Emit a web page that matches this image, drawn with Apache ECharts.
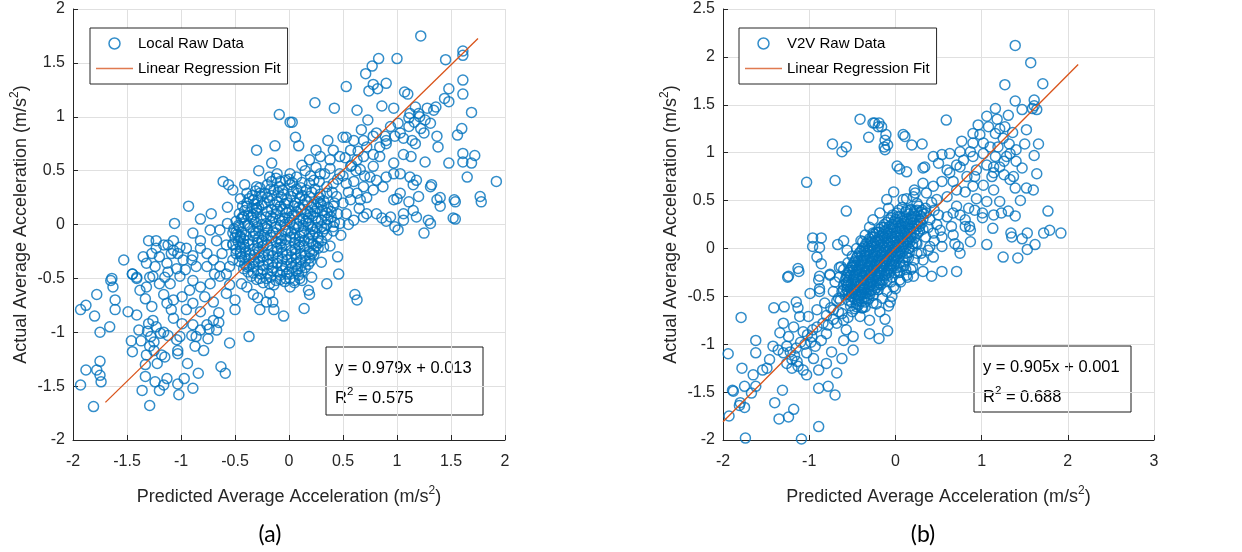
<!DOCTYPE html>
<html><head><meta charset="utf-8">
<script src="https://cdn.jsdelivr.net/npm/echarts@6/dist/echarts.min.js"></script>
<style>html,body{margin:0;padding:0;background:#fff}#c{width:1242px;height:552px}</style>
</head><body><div id="c"></div>
<script>
// ---------- (a) Local: scattered points ----------
const localPoints = [
[1.22,1.75],[1.61,1.61],[1.61,1.57],[1.45,1.53],[1.0,1.54],[0.83,1.54],[0.77,1.47],[0.71,1.4],[0.53,1.28],[0.78,1.3],[0.82,1.26],[0.9,1.31],[0.74,1.24],[1.07,1.23],[1.1,1.21],[1.48,1.26],[1.61,1.34],[1.61,1.21],[1.44,1.17],[1.48,1.14],[0.86,1.1],[0.97,1.08],[0.42,1.08],[0.24,1.13],[0.63,1.06],[-0.09,1.02],[0.01,0.95],[0.03,0.95],[0.73,0.97],[1.69,1.04],[1.28,1.08],[1.34,1.06],[1.36,1.09],[1.2,1.03],[1.17,1.09],[1.6,0.89],[1.56,0.83],[0.06,0.81],[0.09,0.73],[-0.13,0.73],[-0.3,0.69],[0.36,0.78],[0.25,0.69],[0.53,0.81],[0.5,0.81],[0.72,0.72],[0.67,0.88],[0.78,0.82],[0.89,0.82],[1.37,0.82],[1.38,0.72],[1.61,0.66],[1.72,0.64],[1.61,0.58],[1.69,0.57],[1.65,0.44],[1.48,0.57],[1.92,0.4],[1.77,0.26],[1.78,0.21],[1.53,0.23],[1.54,0.21],[1.52,0.06],[1.54,0.05],[1.25,-0.08],[1.29,0.04],[1.31,0.01],[1.18,0.07],[1.37,0.23],[1.4,0.17],[1.4,0.25],[1.31,0.35],[1.32,0.37],[1.26,0.58],[1.13,0.63],[1.06,0.65],[1.14,0.78],[1.25,0.85],[1.22,0.89],[1.17,0.75],[1.06,0.8],[1.11,0.91],[1.03,0.85],[0.98,0.82],[1.11,0.99],[1.21,1.0],[1.26,0.97],[1.31,0.94],[1.12,1.03],[1.16,0.95],[1.01,0.94],[0.94,0.91],[0.9,0.78],[0.84,0.72],[0.9,0.75],[0.81,0.85],[0.69,0.78],[0.6,0.78],[0.64,0.68],[0.57,0.69],[0.47,0.63],[0.38,0.6],[0.41,0.69],[0.29,0.63],[0.19,0.6],[0.12,0.55],[0.01,0.47],[-0.11,0.47],[-0.16,0.57],[-0.18,0.44],[-0.28,0.5],[-0.3,0.35],[-0.41,0.37],[-0.45,0.24],[-0.61,0.4],[-0.56,0.37],[-0.52,0.32],[-0.82,0.05],[-0.93,0.17],[-1.06,0.01],[-1.07,-0.15],[-0.72,0.1],[-0.57,0.16],[-0.57,0.01],[-0.64,-0.05],[-0.73,-0.05],[-0.82,-0.15],[-0.89,-0.08],[-0.95,-0.22],[-1.01,-0.21],[-1.12,-0.19],[-1.3,-0.15],[-1.23,-0.22],[-1.2,-0.3],[-1.27,-0.27],[-1.35,-0.3],[-1.32,-0.36],[-1.24,-0.39],[-1.53,-0.33],[-1.64,-0.5],[-1.45,-0.46],[-1.41,-0.49],[-1.09,-0.27],[-1.03,-0.27],[-0.98,-0.33],[-1.13,-0.36],[-1.12,-0.44],[-1.04,-0.41],[-0.9,-0.33],[-0.86,-0.39],[-0.76,-0.27],[-0.7,-0.33],[-0.62,-0.27],[-0.76,-0.39],[-0.69,-0.46],[-0.52,-0.18],[-0.45,-0.11],[-0.52,-0.08],[-0.42,0.07],[-0.39,0.17],[-0.33,0.23],[-0.3,0.15],[-0.27,0.29],[-0.39,0.29],[-0.45,-0.27],[-0.39,-0.39],[-0.33,-0.33],[-0.55,-0.39],[-0.58,-0.46],
[0.47,0.47],[0.57,0.54],[0.66,0.51],[0.75,0.44],[0.81,0.41],[0.9,0.44],[0.97,0.47],[1.03,0.47],[0.87,0.35],[0.78,0.32],[0.69,0.35],[0.63,0.29],[0.57,0.23],[0.66,0.23],[0.72,0.1],[0.81,0.1],[0.94,0.07],[0.98,-0.02],[1.01,-0.05],[1.06,0.04],[0.97,0.23],[1.0,0.24],[1.12,0.44],[1.18,0.41],[1.15,0.37],[1.11,0.21],[1.15,0.13],[1.2,0.26],[0.41,0.38],[0.35,0.29],[0.29,0.2],[0.41,0.17],[0.53,0.1],[0.6,0.04],[0.47,0.01],[0.41,-0.02],[0.69,0.07],[0.86,0.06],[0.9,0.03],[1.06,0.1],[0.78,0.65],[0.84,0.63],[0.97,0.57],[0.63,0.6],[0.53,0.38],[0.29,0.47],[0.23,0.41],[0.44,0.26],[0.78,0.54],[0.69,0.63],[1.03,0.29],
[0.45,0.1],[0.5,0.2],[0.55,0.3],[0.5,0.45],[0.6,0.4],[0.65,0.15],[0.55,0.0],[0.48,-0.1],[0.38,-0.2],[0.45,-0.3],[0.3,-0.35],[0.58,0.55],[0.7,0.45],[0.72,0.25],[0.62,0.5],[0.52,0.62],
[-1.23,-0.15],[-1.16,-0.19],[-1.07,-0.24],[-0.82,-0.22],[-0.67,-0.15],[-0.58,-0.19],[-0.89,-0.29],[-0.96,-0.42],[-1.15,-0.49],[-1.29,-0.49],[-0.64,-0.39],[-0.52,-0.33],
[-1.93,-0.79],[-1.88,-0.75],[-1.78,-0.65],[-1.8,-0.85],[-1.65,-0.52],[-1.63,-0.58],[-1.61,-0.7],[-1.61,-0.79],[-1.66,-0.95],[-1.75,-1.0],[-1.75,-1.27],[-1.93,-1.49],[-1.88,-1.35],[-1.78,-1.35],[-1.75,-1.4],[-1.74,-1.46],[-1.81,-1.69],[-1.49,-0.81],[-1.45,-0.46],[-1.41,-0.5],[-1.38,-0.61],[-1.33,-0.69],[-1.41,-0.84],[-1.46,-1.08],[-1.45,-1.18],[-1.39,-0.98],[-1.37,-1.08],[-1.31,-0.99],[-1.28,-1.04],[-1.33,-1.3],[-1.33,-1.41],[-1.36,-1.54],[-1.29,-1.68],[-1.24,-1.46],[-1.2,-1.54],[-1.16,-1.49],[-1.13,-1.43],[-1.22,-1.29],[-1.25,-1.17],[-1.29,-1.13],[-1.25,-1.09],[-1.18,-1.21],[-1.15,-1.23],[-1.32,-1.21],[-1.26,-0.89],[-1.23,-0.95],[-1.16,-1.0],[-1.12,-1.03],[-1.19,-1.01],[-1.3,-0.92],[-1.03,-1.48],[-1.02,-1.58],[-0.97,-1.43],[-0.89,-1.52],[-0.84,-1.38],[-0.94,-1.29],[-1.04,-1.07],[-1.03,-1.17],[-1.03,-1.2],[-1.01,-1.04],[-0.87,-1.13],[-0.9,-1.03],[-0.86,-1.04],[-0.79,-1.17],[-0.75,-1.06],[-0.74,-0.97],[-0.67,-0.98],[-0.65,-0.91],[-0.63,-1.32],[-0.59,-1.38],[-0.55,-1.1],[-0.37,-1.04],[-0.05,-0.85],[0.14,-0.78],[0.35,-0.55],[0.46,-0.46],[0.61,-0.65],[0.63,-0.7],[0.18,-0.61],[0.19,-0.65],[0.21,-0.49],[0.12,-0.52],[0.01,-0.58],[0.05,-0.54],[-0.27,-0.79],[-0.29,-0.68],[-0.21,-0.72],[-0.14,-0.79],[-0.15,-0.72],[-0.18,-0.64],[-0.5,-0.7],[-0.5,-0.79],[-0.44,-0.55],[-0.33,-0.65],[-0.39,-0.58],[-0.7,-0.72],[-0.65,-0.82],[-0.7,-0.89],[-0.76,-0.93],[-0.82,-0.81],[-0.89,-0.73],[-0.95,-0.79],[-0.99,-0.67],[-0.92,-0.61],[-0.82,-0.58],[-0.78,-0.67],[-1.07,-0.7],[-1.09,-0.79],[-1.13,-0.73],[-1.16,-0.65],[-1.2,-0.55],[-1.26,-0.48],[-1.1,-0.55],[-1.01,-0.48],[-0.89,-0.52],[-0.73,-0.55],[-0.64,-0.48],[-0.55,-0.56],[-0.58,-0.64],[-1.32,-0.58],[-1.27,-0.76],[-0.99,-0.92],[-1.07,-0.87],[-0.89,-0.93],[-0.82,-0.98]
];
// (a) dense central cloud, estimated circle by circle
const localCore = [
[-0.12,0.43],[-0.03,0.41],[0.07,0.44],[-0.2,0.37],[-0.09,0.35],[0.01,0.37],[0.11,0.34],[0.19,0.38],
[-0.31,0.31],[-0.22,0.29],[-0.14,0.32],[-0.05,0.28],[0.04,0.31],[0.12,0.27],[0.21,0.3],[0.28,0.25],
[-0.37,0.24],[-0.29,0.22],[-0.2,0.25],[-0.11,0.21],[-0.02,0.23],[0.06,0.2],[0.15,0.23],[0.23,0.19],[0.32,0.22],
[-0.43,0.17],[-0.34,0.15],[-0.25,0.18],[-0.16,0.14],[-0.08,0.17],[0.0,0.13],[0.09,0.16],[0.17,0.12],[0.26,0.15],[0.35,0.11],
[-0.46,0.1],[-0.38,0.08],[-0.3,0.11],[-0.21,0.07],[-0.12,0.1],[-0.04,0.06],[0.05,0.09],[0.13,0.05],[0.22,0.08],[0.3,0.04],[0.39,0.07],
[-0.49,0.03],[-0.41,0.01],[-0.33,0.04],[-0.25,0.0],[-0.16,0.03],[-0.08,-0.01],[0.01,0.02],[0.09,-0.02],[0.18,0.01],[0.26,-0.03],[0.35,0.0],
[-0.51,-0.04],[-0.44,-0.07],[-0.36,-0.03],[-0.28,-0.06],[-0.2,-0.04],[-0.12,-0.08],[-0.03,-0.05],[0.05,-0.09],[0.14,-0.06],[0.22,-0.1],[0.31,-0.07],
[-0.5,-0.12],[-0.42,-0.14],[-0.33,-0.11],[-0.25,-0.15],[-0.16,-0.12],[-0.07,-0.15],[0.01,-0.12],[0.1,-0.16],[0.18,-0.13],[0.27,-0.17],
[-0.52,-0.19],[-0.45,-0.21],[-0.37,-0.18],[-0.29,-0.22],[-0.2,-0.19],[-0.11,-0.22],[-0.03,-0.19],[0.06,-0.23],[0.14,-0.2],[0.23,-0.24],
[-0.49,-0.27],[-0.4,-0.25],[-0.32,-0.28],[-0.23,-0.26],[-0.15,-0.29],[-0.06,-0.26],[0.02,-0.3],[0.11,-0.27],[0.19,-0.31],
[-0.46,-0.34],[-0.37,-0.32],[-0.28,-0.35],[-0.2,-0.33],[-0.11,-0.36],[-0.02,-0.33],[0.07,-0.37],[0.15,-0.34],
[-0.42,-0.41],[-0.33,-0.39],[-0.24,-0.42],[-0.15,-0.4],[-0.06,-0.43],[0.03,-0.4],[0.12,-0.44],
[-0.35,-0.48],[-0.26,-0.46],[-0.17,-0.49],[-0.08,-0.47],[0.01,-0.5],[0.09,-0.47],
[-0.24,-0.54],[-0.14,-0.56],[-0.04,-0.53],
[-0.08,0.4],[0.03,0.39],[-0.17,0.33],[-0.06,0.32],[0.07,0.33],[0.16,0.32],
[-0.26,0.26],[-0.16,0.27],[-0.07,0.25],[0.02,0.26],[0.1,0.24],[0.19,0.26],[0.27,0.21],
[-0.32,0.19],[-0.23,0.2],[-0.13,0.18],[-0.04,0.19],[0.05,0.17],[0.13,0.18],[0.21,0.16],[0.3,0.18],
[-0.41,0.13],[-0.3,0.14],[-0.2,0.12],[-0.11,0.14],[-0.02,0.11],[0.07,0.12],[0.15,0.1],[0.24,0.12],[0.33,0.08],
[-0.44,0.05],[-0.35,0.07],[-0.26,0.05],[-0.17,0.08],[-0.09,0.04],[0.0,0.06],[0.1,0.04],[0.18,0.06],[0.27,0.03],[0.36,0.05],
[-0.47,-0.01],[-0.38,0.0],[-0.29,-0.02],[-0.21,0.01],[-0.12,-0.02],[-0.04,0.0],[0.05,-0.03],[0.13,-0.01],[0.22,-0.04],[0.3,-0.02],
[-0.48,-0.09],[-0.4,-0.1],[-0.31,-0.08],[-0.23,-0.1],[-0.15,-0.07],[-0.07,-0.1],[0.02,-0.08],[0.1,-0.11],[0.19,-0.09],[0.27,-0.12],
[-0.47,-0.16],[-0.38,-0.15],[-0.29,-0.17],[-0.21,-0.14],[-0.12,-0.16],[-0.03,-0.14],[0.05,-0.17],[0.14,-0.15],[0.22,-0.18],
[-0.49,-0.23],[-0.41,-0.21],[-0.33,-0.23],[-0.24,-0.2],[-0.16,-0.24],[-0.07,-0.21],[0.02,-0.24],[0.1,-0.21],[0.19,-0.25],[0.27,-0.22],
[-0.44,-0.3],[-0.36,-0.28],[-0.27,-0.31],[-0.19,-0.28],[-0.1,-0.31],[-0.02,-0.28],[0.07,-0.31],[0.15,-0.29],[0.23,-0.28],
[-0.41,-0.37],[-0.32,-0.35],[-0.24,-0.38],[-0.15,-0.35],[-0.07,-0.38],[0.02,-0.36],[0.11,-0.39],[0.18,-0.37],
[-0.38,-0.44],[-0.29,-0.43],[-0.2,-0.45],[-0.11,-0.44],[-0.02,-0.46],[0.07,-0.43],
[-0.3,-0.51],[-0.21,-0.5],[-0.12,-0.52],[-0.03,-0.5],[0.05,-0.52],
[0.2,0.45],[0.28,0.4],[0.35,0.35],[0.15,0.5],[0.25,0.53],[0.33,0.47],[0.4,0.3],[0.42,0.2],[0.45,0.42],[0.38,0.52],
[-0.16,0.4],[0.0,0.42],[0.12,0.39],[-0.27,0.34],[-0.1,0.3],[0.08,0.29],[0.24,0.33],
[-0.34,0.27],[-0.18,0.22],[-0.01,0.2],[0.17,0.21],[0.29,0.28],[0.36,0.16],
[-0.39,0.2],[-0.28,0.16],[-0.06,0.14],[0.11,0.14],[0.2,0.1],[0.31,0.13],[0.39,0.12],
[-0.43,0.07],[-0.33,0.09],[-0.15,0.06],[0.03,0.08],[0.16,0.03],[0.25,0.06],[0.42,0.02],
[-0.46,-0.02],[-0.31,0.02],[-0.22,-0.03],[-0.06,0.03],[0.07,0.01],[0.2,-0.02],[0.33,-0.04],[0.41,-0.06],
[-0.49,-0.07],[-0.33,-0.06],[-0.17,-0.1],[-0.01,-0.06],[0.12,-0.08],[0.24,-0.07],[0.35,-0.1],
[-0.45,-0.12],[-0.28,-0.12],[-0.1,-0.13],[0.06,-0.13],[0.2,-0.16],[0.3,-0.15],
[-0.42,-0.18],[-0.25,-0.17],[-0.08,-0.18],[0.09,-0.19],[0.25,-0.2],[0.32,-0.21],
[-0.45,-0.25],[-0.28,-0.25],[-0.11,-0.25],[0.06,-0.27],[0.21,-0.27],
[-0.41,-0.31],[-0.24,-0.3],[-0.06,-0.32],[0.11,-0.33],[0.2,-0.34],
[-0.37,-0.38],[-0.19,-0.37],[-0.03,-0.39],[0.08,-0.41],[0.15,-0.4],
[-0.33,-0.45],[-0.16,-0.43],[0.0,-0.44],[0.1,-0.5],
[-0.27,-0.5],[-0.08,-0.51],[-0.18,-0.55]
];
const localFit = [[-1.70,-1.651],[1.75,1.726]];

// ---------- (b) V2V ----------
const v2vPoints = [
[1.39,2.12],[1.57,1.94],[1.71,1.72],[1.27,1.71],[1.39,1.54],[1.61,1.55],[1.61,1.49],[1.64,1.45],[1.59,1.46],[1.47,1.45],[1.16,1.46],[1.06,1.38],[1.18,1.35],[1.21,1.25],[1.31,1.39],[1.27,1.27],[1.36,1.21],[1.52,1.24],[1.5,1.09],[1.66,1.09],[1.61,0.97],[1.64,0.78],[1.47,0.84],[1.4,0.91],[1.32,1.09],[1.52,0.63],[1.6,0.61],[1.45,0.5],[1.77,0.39],[1.92,0.16],[1.79,0.19],[1.72,0.16],[1.62,0.04],[1.53,0.16],[1.53,-0.01],[1.47,0.1],[1.34,0.16],[1.35,0.12],[1.42,-0.1],[1.25,-0.09],[1.06,0.04],[1.39,0.34],[1.31,0.39],[1.21,0.49],[1.23,0.37],[1.14,0.35],[1.13,0.21],[1.01,0.37],[1.01,0.32],[0.87,0.07],[0.87,0.19],[0.86,0.23],[0.81,0.3],[0.94,0.52],[1.06,0.49],[1.39,0.63],[1.33,0.72],[1.37,0.75],[1.26,0.77],[1.14,0.79],[1.4,1.03],[1.26,0.91],[1.16,0.96],[1.1,1.06],[0.9,1.2],[0.98,1.19],[0.77,1.12],[0.96,1.29],[1.08,1.27],[0.59,1.34],[-0.41,1.35],[-0.26,1.31],[-0.24,1.31],[-0.19,1.31],[-0.2,1.27],[-0.16,1.27],[-0.31,1.16],[-0.11,1.19],[-0.12,1.13],[-0.13,1.06],[-0.09,1.08],[-0.12,1.03],[0.09,1.19],[0.11,1.17],[0.19,1.08],[0.31,1.09],[-0.73,1.09],[-0.62,1.01],[-0.57,1.06],[-1.03,0.69],[-0.7,0.71],[-0.57,0.39],[0.02,0.86],[0.05,0.83],[0.13,0.8],[0.32,0.84],[0.34,0.85],[0.22,0.61],[0.23,0.58],[0.32,0.68],[0.13,0.52],[0.44,0.96],[0.54,0.98],[0.63,0.99],[0.75,1.01],[0.87,1.01],[0.5,0.89],[0.6,0.82],[0.71,0.87],[0.79,0.92],[0.9,0.96],[1.02,0.99],[1.06,0.87],[0.94,0.82],[0.83,0.75],[0.67,0.7],[0.54,0.7],[0.44,0.65],[0.36,0.58],[0.48,0.51],[0.6,0.54],[0.71,0.61],[0.81,0.59],[0.9,0.65],[1.02,0.66],[1.14,0.61],[1.14,0.85],[0.71,0.44],[0.67,0.37],[0.6,0.33],[0.75,0.35],[0.81,0.23],[0.52,0.19],[0.65,0.23],[0.67,0.14],[0.54,0.12],[0.44,0.16],[0.4,0.02],[0.54,0.02],[0.69,0.05],[0.73,0.02],[0.75,-0.05],[0.44,-0.09],[0.32,-0.12],[0.25,-0.05],[0.36,0.37],[0.25,0.47],[1.16,1.2],[1.25,1.15],[1.02,1.1],[1.19,1.06],[0.9,1.1],[0.75,0.85],[1.21,0.85],[1.29,0.96],[0.63,0.79],[0.92,0.75],[1.12,0.75],[1.33,0.99],[0.85,0.42],[0.92,0.4],
[-0.18,0.37],[-0.08,0.42],[0.02,0.33],[-0.26,0.3],[-0.1,0.51],[0.09,0.51],[0.17,0.4],[-0.02,0.59],[0.21,0.54],
[-1.13,-0.21],[-1.24,-0.29],[-0.96,0.11],[-0.86,0.11],[-0.96,0.02],[-0.88,0.01],[-0.91,-0.09],[-0.86,-0.16],[-0.88,-0.29],[-0.67,0.04],[-0.6,0.08],[-0.56,-0.02],[-0.63,-0.19],[-0.76,-0.27],[-0.49,-0.19],[-0.38,0.07],[-0.26,0.16],
[-1.94,-1.1],[-1.93,-1.75],[-1.79,-0.72],[-1.88,-1.49],[-1.89,-1.48],[-1.8,-1.61],[-1.81,-1.64],[-1.75,-1.66],[-1.74,-1.98],[-1.78,-1.25],[-1.65,-1.32],[-1.75,-1.44],[-1.67,-1.51],[-1.62,-1.44],[-1.62,-0.96],[-1.62,-1.09],[-1.54,-1.27],[-1.49,-1.25],[-1.46,-1.16],[-1.42,-1.02],[-1.41,-0.62],[-1.34,-0.88],[-1.4,-1.61],[-1.35,-1.78],[-1.29,-0.61],[-1.31,-1.48],[-1.24,-1.76],[-1.18,-1.68],[-1.09,-1.99],[-0.89,-1.86],[-0.89,-1.46],[-0.78,-1.44],[-0.7,-1.53],[-0.99,-0.47],[-0.88,-0.45],[-1.15,-0.56],[-1.13,-0.62],[-1.25,-0.3],[-1.12,-0.24],[-0.89,-0.33],[-0.88,-0.42],[-0.76,-0.28],[-0.62,-1.15],[-0.68,-1.3],[-0.74,-1.08],[-0.8,-1.2],[-0.89,-1.27],[-0.95,-1.15],[-1.03,-1.09],[-1.07,-1.27],[-1.03,-1.32],[-1.13,-1.23],[-1.2,-1.16],[-1.15,-1.04],[-1.26,-1.02],[-1.3,-1.09],[-1.36,-1.06],[-1.24,-0.92],[-1.3,-0.78],[-1.18,-0.82],[-1.07,-0.87],[-0.97,-0.92],[-0.86,-0.96],[-0.8,-0.89],[-0.91,-0.82],[-1.01,-0.71],[-1.11,-0.71],[-0.91,-0.64],[-0.82,-0.57],[-0.72,-0.64],[-0.64,-0.54],[-0.6,-0.75],[-0.68,-0.78],[-0.57,-0.85],[-0.49,-0.92],[-0.3,-0.89],[-0.19,-0.94],[-0.09,-0.86],[-0.12,-0.74],[-0.3,-0.75],[-0.41,-0.71],[-0.45,-0.61],[-0.26,-0.57],[-0.18,-0.66],[-0.06,-0.56],[-0.04,-0.5],[-0.02,-0.4],[0.05,-0.33],[0.13,-0.28],[0.21,-0.29],[0.32,-0.24],[0.42,-0.29],[0.54,-0.24],[0.71,-0.24],[-0.49,-0.43],[-0.37,-0.43],[-0.57,-0.36],[-0.18,-0.36],[-0.49,-1.06],[-0.6,-0.96],
[-0.7,-0.35],[-0.65,-0.2],[-0.72,-0.45],[-0.68,-0.55],[-0.75,-0.62],[-0.8,-0.7],[-0.62,-0.68],[-0.55,-0.72],[-0.5,-0.66],[-0.45,-0.58],[-0.38,-0.62],[-0.33,-0.52],[-0.4,-0.48],[0.25,0.05],[0.3,-0.05],[0.35,0.12],[0.28,0.18],[0.22,-0.12],[0.38,-0.02],[0.45,0.08],[0.15,-0.1],[0.1,-0.18],[0.18,-0.22],[0.05,-0.25],[-0.05,-0.35],[0.0,-0.42],[-0.1,-0.45],[-0.15,-0.52],[-0.22,-0.58],[-0.08,-0.6],
[-1.22,-1.08],[-1.17,-1.12],[-1.1,-0.98],[-1.05,-1.0],[-0.98,-0.98],[-0.93,-1.02],[-0.96,-0.85],[-1.02,-0.9],[-0.84,-0.78],[-0.78,-0.8],[-0.72,-0.74],[-0.66,-0.66],[-1.26,-1.2],[-1.2,-1.25],[-1.14,-1.18]
];
const v2vCore = [
[0.08,0.43],[0.18,0.41],[0.27,0.44],[0.35,0.42],[0.02,0.37],[0.12,0.38],[0.21,0.36],[0.3,0.38],
[-0.05,0.32],[0.05,0.33],[0.14,0.31],[0.23,0.33],[0.32,0.31],[-0.1,0.27],[-0.01,0.28],[0.08,0.26],[0.17,0.28],[0.26,0.26],
[-0.16,0.22],[-0.07,0.23],[0.02,0.21],[0.11,0.23],[0.2,0.21],[0.28,0.23],[-0.22,0.17],[-0.13,0.18],[-0.04,0.16],[0.05,0.18],[0.14,0.16],[0.22,0.17],
[-0.27,0.12],[-0.18,0.13],[-0.09,0.11],[0.0,0.13],[0.09,0.11],[0.18,0.12],[-0.32,0.07],[-0.23,0.08],[-0.14,0.06],[-0.05,0.08],[0.04,0.06],[0.13,0.07],[0.2,0.05],
[-0.36,0.02],[-0.27,0.03],[-0.18,0.01],[-0.09,0.03],[0.0,0.01],[0.08,0.02],[0.16,0.0],[-0.4,-0.03],[-0.31,-0.02],[-0.22,-0.04],[-0.13,-0.02],[-0.04,-0.04],[0.05,-0.03],[0.12,-0.05],
[-0.44,-0.08],[-0.35,-0.07],[-0.26,-0.09],[-0.17,-0.07],[-0.08,-0.09],[0.01,-0.08],[0.09,-0.1],[-0.47,-0.13],[-0.38,-0.12],[-0.29,-0.14],[-0.2,-0.12],[-0.11,-0.14],[-0.03,-0.13],[0.05,-0.15],
[-0.5,-0.18],[-0.41,-0.17],[-0.32,-0.19],[-0.23,-0.17],[-0.14,-0.19],[-0.06,-0.18],[0.02,-0.2],[-0.53,-0.23],[-0.44,-0.22],[-0.35,-0.24],[-0.26,-0.22],[-0.17,-0.24],[-0.09,-0.23],[-0.01,-0.25],
[-0.56,-0.28],[-0.47,-0.27],[-0.38,-0.29],[-0.29,-0.27],[-0.2,-0.29],[-0.12,-0.28],[-0.04,-0.3],[-0.58,-0.33],[-0.49,-0.32],[-0.4,-0.34],[-0.31,-0.32],[-0.22,-0.34],[-0.14,-0.33],
[-0.6,-0.38],[-0.51,-0.37],[-0.42,-0.39],[-0.33,-0.37],[-0.25,-0.39],[-0.17,-0.38],[-0.6,-0.43],[-0.52,-0.42],[-0.44,-0.44],[-0.36,-0.42],[-0.28,-0.44],[-0.2,-0.43],
[-0.58,-0.48],[-0.5,-0.47],[-0.42,-0.49],[-0.34,-0.47],[-0.26,-0.49],[-0.55,-0.54],[-0.47,-0.53],[-0.39,-0.55],[-0.31,-0.53],[-0.52,-0.6],[-0.43,-0.59],[-0.35,-0.61],
[0.13,0.4],[0.22,0.39],[0.31,0.4],[0.0,0.3],[0.1,0.29],[0.19,0.3],[0.28,0.29],[-0.13,0.25],[-0.04,0.25],[0.06,0.24],[0.15,0.25],[0.24,0.24],[-0.19,0.2],[-0.1,0.19],[-0.01,0.2],[0.08,0.19],[0.17,0.2],
[-0.25,0.15],[-0.15,0.14],[-0.06,0.15],[0.03,0.14],[0.12,0.15],[-0.3,0.1],[-0.2,0.09],[-0.11,0.1],[-0.02,0.09],[0.07,0.1],[0.15,0.09],[-0.34,0.05],[-0.25,0.05],[-0.16,0.04],[-0.07,0.05],[0.02,0.04],[0.1,0.05],
[-0.38,0.0],[-0.29,0.0],[-0.2,-0.01],[-0.11,0.0],[-0.02,-0.01],[0.07,0.0],[-0.42,-0.05],[-0.33,-0.05],[-0.24,-0.06],[-0.15,-0.05],[-0.06,-0.06],[0.03,-0.05],
[-0.45,-0.1],[-0.36,-0.1],[-0.27,-0.11],[-0.18,-0.1],[-0.1,-0.11],[-0.01,-0.1],[-0.48,-0.15],[-0.39,-0.15],[-0.3,-0.16],[-0.21,-0.15],[-0.13,-0.16],[-0.04,-0.16],
[-0.51,-0.2],[-0.42,-0.2],[-0.33,-0.21],[-0.25,-0.2],[-0.16,-0.21],[-0.07,-0.21],[-0.54,-0.25],[-0.45,-0.25],[-0.36,-0.26],[-0.28,-0.25],[-0.19,-0.26],[-0.1,-0.26],
[-0.57,-0.3],[-0.48,-0.3],[-0.39,-0.31],[-0.3,-0.3],[-0.21,-0.31],[-0.55,-0.35],[-0.46,-0.35],[-0.37,-0.36],[-0.28,-0.35],[-0.19,-0.36],
[-0.56,-0.4],[-0.47,-0.4],[-0.38,-0.41],[-0.3,-0.4],[-0.22,-0.41],[-0.55,-0.45],[-0.47,-0.45],[-0.39,-0.46],[-0.31,-0.45],[-0.51,-0.5],[-0.43,-0.51],[-0.35,-0.5],
[0.04,0.4],[0.16,0.36],[0.25,0.4],[0.33,0.36],[-0.03,0.35],[0.08,0.32],[0.19,0.33],[0.29,0.34],
[-0.08,0.3],[0.03,0.27],[0.12,0.27],[0.21,0.27],[0.3,0.26],[-0.13,0.22],[-0.03,0.22],[0.06,0.21],[0.15,0.22],[0.24,0.2],[0.32,0.2],
[-0.19,0.17],[-0.09,0.16],[0.01,0.17],[0.1,0.17],[0.18,0.16],[0.26,0.16],[-0.24,0.12],[-0.13,0.12],[-0.04,0.12],[0.05,0.12],[0.14,0.12],[0.22,0.11],
[-0.28,0.07],[-0.18,0.07],[-0.09,0.07],[0.0,0.07],[0.09,0.07],[0.17,0.07],[0.24,0.06],
[-0.32,0.02],[-0.22,0.02],[-0.13,0.02],[-0.04,0.02],[0.04,0.02],[0.12,0.02],[0.2,0.02],
[-0.36,-0.03],[-0.26,-0.03],[-0.17,-0.03],[-0.08,-0.03],[0.01,-0.03],[0.09,-0.03],[0.16,-0.04],
[-0.4,-0.08],[-0.3,-0.08],[-0.21,-0.08],[-0.12,-0.08],[-0.03,-0.08],[0.05,-0.08],[0.13,-0.09],
[-0.43,-0.13],[-0.33,-0.13],[-0.24,-0.13],[-0.15,-0.13],[-0.07,-0.13],[0.01,-0.13],[0.09,-0.14],
[-0.46,-0.18],[-0.36,-0.18],[-0.27,-0.18],[-0.18,-0.18],[-0.1,-0.18],[-0.02,-0.18],[0.06,-0.19],
[-0.49,-0.23],[-0.39,-0.23],[-0.3,-0.23],[-0.21,-0.23],[-0.13,-0.23],[-0.05,-0.23],[0.03,-0.24],
[-0.52,-0.28],[-0.42,-0.28],[-0.33,-0.28],[-0.24,-0.28],[-0.16,-0.28],[-0.08,-0.28],
[-0.54,-0.33],[-0.44,-0.33],[-0.35,-0.33],[-0.26,-0.33],[-0.18,-0.33],[-0.1,-0.34],
[-0.55,-0.38],[-0.46,-0.38],[-0.37,-0.38],[-0.29,-0.38],[-0.21,-0.38],
[-0.56,-0.43],[-0.48,-0.43],[-0.4,-0.43],[-0.32,-0.43],[-0.24,-0.43],
[-0.54,-0.48],[-0.46,-0.48],[-0.38,-0.48],[-0.3,-0.48],[-0.51,-0.56],[-0.43,-0.55],[-0.35,-0.56],[-0.39,-0.62],[-0.47,-0.63],
[0.4,0.3],[0.45,0.4],[0.38,0.22],[0.5,0.35],[0.42,0.48],[0.48,0.25],[-0.3,0.22],[-0.35,0.14],[-0.4,0.08],[-0.45,0.0],[-0.5,-0.08],[-0.55,-0.15],[-0.6,-0.22],[-0.65,-0.3],[-0.62,-0.45],[-0.66,-0.52],[0.14,-0.3],[0.06,-0.35],[0.2,-0.2],[0.12,-0.22]
];
const v2vFit = [[-2.0,-1.809],[2.12,1.920]];

// axis ranges / tick steps
const axisA = {xMin:-2, xMax:2, xStep:0.5, yMin:-2, yMax:2, yStep:0.5};
const axisB = {xMin:-2, xMax:3, xStep:1, yMin:-2, yMax:2.5, yStep:0.5};
const seriesNames = {a:'Local Raw Data', b:'V2V Raw Data', fit:'Linear Regression Fit'};
const fitText = {a:['y = 0.979x + 0.013','0.575'], b:['y = 0.905x + 0.001','0.688']};
const panelLabels = ['(a)','(b)'];

const FONT = '"Liberation Sans", Arial, Helvetica, sans-serif';
const AX = '#262626';
const BLUE = '#0072BD', ORANGE = '#D95319';

function xAxisOf(ax, grid){
  return {type:'value', gridIndex:grid, min:ax.xMin, max:ax.xMax, interval:ax.xStep,
    axisLine:{show:true, onZero:false, lineStyle:{color:AX,width:1}},
    axisTick:{show:true, inside:true, length:5, lineStyle:{color:AX}},
    axisLabel:{color:AX, fontFamily:FONT, fontSize:16, margin:14},
    splitLine:{show:true, lineStyle:{color:'#e0e0e0', width:1}},
    name:'{t|Predicted Average Acceleration (m/s}{s|2}{t|)}', nameLocation:'middle', nameGap:45,
    nameTextStyle:{rich:{t:{fontFamily:FONT,fontSize:18,color:AX,lineHeight:24},
                         s:{fontFamily:FONT,fontSize:12,color:AX,lineHeight:12,verticalAlign:'top'}}}
  };
}
function yAxisOf(ax, grid){
  return {type:'value', gridIndex:grid, min:ax.yMin, max:ax.yMax, interval:ax.yStep,
    axisLine:{show:true, onZero:false, lineStyle:{color:AX,width:1}},
    axisTick:{show:true, inside:true, length:5, lineStyle:{color:AX}},
    axisLabel:{color:AX, fontFamily:FONT, fontSize:16, margin:8},
    splitLine:{show:true, lineStyle:{color:'#e0e0e0', width:1}},
    name:'{t|Actual Average Acceleration (m/s}{s|2}{t|)}', nameLocation:'middle', nameGap:40, nameRotate:90,
    nameTextStyle:{rich:{t:{fontFamily:FONT,fontSize:18,color:AX,lineHeight:24},
                         s:{fontFamily:FONT,fontSize:12,color:AX,lineHeight:12,verticalAlign:'top'}}}
  };
}
function scatterOf(name, data, idx){
  return {type:'scatter', name, data, xAxisIndex:idx, yAxisIndex:idx, symbol:'circle', symbolSize:10,
    itemStyle:{color:'rgba(0,0,0,0)', borderColor:BLUE, borderWidth:1.5}, z:2, silent:true};
}
function fitOf(data, idx){
  return {type:'line', name:seriesNames.fit, data, xAxisIndex:idx, yAxisIndex:idx, symbol:'none', showSymbol:false,
    lineStyle:{color:ORANGE, width:1.3}, itemStyle:{color:ORANGE}, z:3, silent:true};
}
function legendOf(scName, left){
  return {orient:'vertical', left, top:28, padding:[8,7,8,6], itemGap:10, itemWidth:37, itemHeight:11,
    backgroundColor:'#fff', borderColor:AX, borderWidth:1, borderRadius:0, selectedMode:false,
    textStyle:{fontFamily:FONT, fontSize:15, color:'#000'},
    data:[{name:scName, icon:'circle', itemStyle:{color:'rgba(0,0,0,0)', borderColor:BLUE, borderWidth:1.5}},
          {name:seriesNames.fit, icon:'path://M0,0L37,0L37,1.3L0,1.3Z', itemStyle:{color:'#e07a50', borderWidth:0}}]};
}
const richFit = {a:{fontFamily:FONT,fontSize:16.5,fill:'#000',lineHeight:24},
                 s:{fontFamily:FONT,fontSize:11.5,fill:'#000',lineHeight:12,verticalAlign:'top'}};
function fitBox(x, y, w, h, lines, tx){
  return {type:'group', x, y, children:[
    {type:'rect', shape:{x:0,y:0,width:w,height:h}, style:{fill:'none', stroke:'#1a1a1a', lineWidth:1}},
    {type:'text', x:tx, y:21, style:{text:'{a|'+lines[0]+'}', rich:richFit, verticalAlign:'middle', align:'left'}},
    {type:'text', x:tx, y:51, style:{text:'{a|R}{s|2}{a| = '+lines[1]+'}', rich:richFit, verticalAlign:'middle', align:'left'}}
  ]};
}

const chart = echarts.init(document.getElementById('c'), null, {renderer:'canvas'});
chart.setOption({
  animation:false,
  backgroundColor:'#fff',
  grid:[{left:73, top:9, width:432, height:431}, {left:723, top:9, width:431, height:431}],
  xAxis:[xAxisOf(axisA,0), xAxisOf(axisB,1)],
  yAxis:[yAxisOf(axisA,0), yAxisOf(axisB,1)],
  legend:[legendOf(seriesNames.a, 90), legendOf(seriesNames.b, 739)],
  series:[
    scatterOf(seriesNames.a, localPoints.concat(localCore), 0),
    fitOf(localFit, 0),
    scatterOf(seriesNames.b, v2vPoints.concat(v2vCore), 1),
    fitOf(v2vFit, 1)
  ],
  graphic:[
    fitBox(326, 347, 157, 68, fitText.a, 9),
    fitBox(974, 346, 157, 66, fitText.b, 9),
    {type:'text', x:270, y:535, style:{text:panelLabels[0], font:'23px Lato, "Open Sans", sans-serif', fill:'#000', align:'center', verticalAlign:'middle'}},
    {type:'text', x:923, y:535, style:{text:panelLabels[1], font:'23px Lato, "Open Sans", sans-serif', fill:'#000', align:'center', verticalAlign:'middle'}}
  ]
});
</script>
</body></html>
